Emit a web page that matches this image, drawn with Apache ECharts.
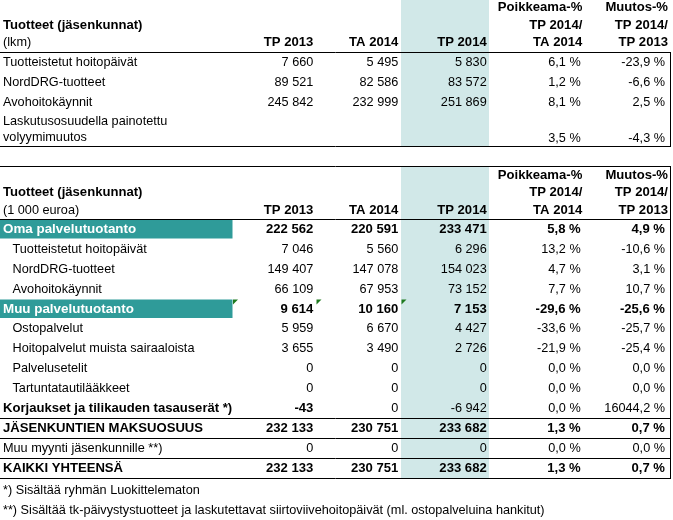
<!DOCTYPE html>
<html><head><meta charset="utf-8">
<script src="https://cdn.jsdelivr.net/npm/echarts@6/dist/echarts.min.js"></script>
<style>html,body{margin:0;padding:0;background:#fff}#c{width:673px;height:520px}</style>
</head><body><div id="c"></div>
<script>
// ================= DATA =================
const tableTitle = 'Tuotteet (jäsenkunnat)';
const columnHeaders = ['TP 2013', 'TA 2014', 'TP 2014', 'Poikkeama-%\nTP 2014/\nTA 2014', 'Muutos-%\nTP 2014/\nTP 2013'];

// Table 1: (lkm)
const topUnit = '(lkm)';
const topCategories = ['Tuotteistetut hoitopäivät', 'NordDRG-tuotteet', 'Avohoitokäynnit', 'Laskutusosuudella painotettu\nvolyymimuutos'];
const topTP2013 = [7660, 89521, 245842, null];
const topTA2014 = [5495, 82586, 232999, null];
const topTP2014 = [5830, 83572, 251869, null];
const topPoikkeama = [6.1, 1.2, 8.1, 3.5];
const topMuutos = [-23.9, -6.6, 2.5, -4.3];

// Table 2: (1 000 euroa)
const euroUnit = '(1 000 euroa)';
const euroCategories = ['Oma palvelutuotanto', 'Tuotteistetut hoitopäivät', 'NordDRG-tuotteet', 'Avohoitokäynnit',
  'Muu palvelutuotanto', 'Ostopalvelut', 'Hoitopalvelut muista sairaaloista', 'Palvelusetelit', 'Tartuntatautilääkkeet',
  'Korjaukset ja tilikauden tasauserät *)', 'JÄSENKUNTIEN MAKSUOSUUS', 'Muu myynti jäsenkunnille **)', 'KAIKKI YHTEENSÄ'];
const euroTP2013 = [222562, 7046, 149407, 66109, 9614, 5959, 3655, 0, 0, -43, 232133, 0, 232133];
const euroTA2014 = [220591, 5560, 147078, 67953, 10160, 6670, 3490, 0, 0, 0, 230751, 0, 230751];
const euroTP2014 = [233471, 6296, 154023, 73152, 7153, 4427, 2726, 0, 0, -6942, 233682, 0, 233682];
const euroPoikkeama = [5.8, 13.2, 4.7, 7.7, -29.6, -33.6, -21.9, 0.0, 0.0, 0.0, 1.3, 0.0, 1.3];
const euroMuutos = [4.9, -10.6, 3.1, 10.7, -25.6, -25.7, -25.4, 0.0, 0.0, 16044.2, 0.7, 0.0, 0.7];
const euroRowKind = ['group', 'sub', 'sub', 'sub', 'group', 'sub', 'sub', 'sub', 'sub', 'corr', 'total', 'plain', 'total'];

const footnotes = ['*) Sisältää ryhmän Luokittelematon',
  '**) Sisältää tk-päivystystuotteet ja laskutettavat siirtoviivehoitopäivät (ml. ostopalveluina hankitut)'];

// ================= LAYOUT / STYLE =================
const W = 673, H = 520;
const FAM = '"Liberation Sans", Arial, sans-serif';
const REG = 12.7, BOLD = 13.1, GROUP = 13.4;
const font = (bold, size) => (bold ? 'bold ' : '') + size + 'px ' + FAM;
const colRight = [313.3, 398.3, 486.7, 580.7, 665];
const colHeaderRight = [313.3, 398.3, 486.7, 582.3, 668];
const labelX = 3, indentX = 12.5, labelClip = 233.5;
const topHeaderY = [7.5, 25, 42.7];
const topRowY = [62.5, 82.5, 102.5, 138];
const topWrapY = [121, 137.5];
const euroHeaderY = [175, 192.7, 210.5];
const euroTop = 219.5, euroRowH = 19.9;
const footY = [490, 510.5];
const tealDark = '#2f9b99', tealLight = '#d1e8e8', ink = '#000000';

// ================= BUILD =================
const fmtNum = v => (v < 0 ? '-' : '') + String(Math.abs(v)).replace(/\B(?=(\d{3})+(?!\d))/g, ' ');
const fmtPct = v => v.toFixed(1).replace('.', ',') + ' %';

const cells = [];
function addText(x, y, text, opts) {
  cells.push(Object.assign({ x: x, y: y, text: text, align: 'left', bold: false, size: REG, color: ink, clip: false }, opts || {}));
}
function addHeaders(headerY, unit) {
  addText(labelX, headerY[1], tableTitle, { bold: true, size: BOLD });
  addText(labelX, headerY[2], unit);
  columnHeaders.forEach((h, c) => {
    const lines = h.split('\n');
    lines.forEach((ln, k) => {
      addText(colHeaderRight[c], headerY[3 - lines.length + k], ln, { align: 'right', bold: true, size: BOLD });
    });
  });
}
function addValues(y, vals, boldFlags) {
  vals.forEach((v, c) => {
    if (v === null || v === undefined) return;
    const t = c < 3 ? fmtNum(v) : fmtPct(v);
    const b = boldFlags[c];
    addText(colRight[c], y, t, { align: 'right', bold: b, size: b ? BOLD : REG });
  });
}

// Table 1
addHeaders(topHeaderY, topUnit);
topCategories.forEach((cat, i) => {
  const lines = cat.split('\n');
  if (lines.length > 1) lines.forEach((ln, k) => addText(labelX, topWrapY[k], ln, { clip: true }));
  else addText(labelX, topRowY[i], cat, { clip: true });
  addValues(topRowY[i], [topTP2013[i], topTA2014[i], topTP2014[i], topPoikkeama[i], topMuutos[i]], [false, false, false, false, false]);
});

// Table 2
addHeaders(euroHeaderY, euroUnit);
const rects = [];
const rectColors = [];
rects.push([401, 0, 489, 147]); rectColors.push(tealLight);
rects.push([401, 167, 489, 478.5]); rectColors.push(tealLight);
const markers = [];
euroCategories.forEach((cat, i) => {
  const kind = euroRowKind[i];
  const top = euroTop + i * euroRowH;
  const y = top + euroRowH / 2;
  const vals = [euroTP2013[i], euroTA2014[i], euroTP2014[i], euroPoikkeama[i], euroMuutos[i]];
  if (kind === 'group') {
    rects.push([0, top + 0.5, 232.5, top + 19]); rectColors.push(tealDark);
    addText(labelX, y, cat, { bold: true, size: GROUP, color: '#ffffff', clip: true });
    addValues(y, vals, [true, true, true, true, true]);
  } else if (kind === 'sub') {
    addText(indentX, y, cat, { clip: true });
    addValues(y, vals, [false, false, false, false, false]);
  } else if (kind === 'corr') {
    addText(labelX, y, cat, { bold: true, size: BOLD, clip: true });
    addValues(y, vals, [true, false, false, false, false]);
  } else if (kind === 'total') {
    addText(labelX, y, cat, { bold: true, size: BOLD, clip: true });
    addValues(y, vals, [true, true, true, true, true]);
  } else {
    addText(labelX, y, cat, { clip: true });
    addValues(y, vals, [false, false, false, false, false]);
  }
  if (i === 4) { markers.push([233, top + 0.5]); markers.push([316.5, top + 0.5]); markers.push([401.5, top + 0.5]); }
});
footnotes.forEach((f, k) => addText(labelX, footY[k], f));

const rules = [
  [0, 52.5, 671, 52.5], [0, 146.5, 671, 146.5], [670.5, 52.5, 670.5, 146.5],
  [0, 166.5, 671, 166.5], [0, 219.5, 671, 219.5], [670.5, 166.5, 670.5, 478.5],
  [0, 418.5, 671, 418.5], [0, 438.5, 671, 438.5], [0, 458.5, 671, 458.5], [0, 478.5, 671, 478.5]
];

// ================= CHART =================
const chart = echarts.init(document.getElementById('c'), null, { renderer: 'canvas' });
chart.setOption({
  animation: false,
  backgroundColor: '#ffffff',
  grid: { left: 0, right: 0, top: 0, bottom: 0 },
  xAxis: { type: 'value', min: 0, max: W, show: false },
  yAxis: { type: 'value', min: 0, max: H, inverse: true, show: false },
  series: [
    {
      type: 'custom', z: 1, silent: true, data: rects,
      renderItem: function (params, api) {
        const p0 = api.coord([api.value(0), api.value(1)]);
        const p1 = api.coord([api.value(2), api.value(3)]);
        return { type: 'rect', shape: { x: p0[0], y: p0[1], width: p1[0] - p0[0], height: p1[1] - p0[1] },
          style: { fill: rectColors[params.dataIndex] } };
      }
    },
    {
      type: 'custom', z: 2, silent: true, data: rules,
      renderItem: function (params, api) {
        const p0 = api.coord([api.value(0), api.value(1)]);
        const p1 = api.coord([api.value(2), api.value(3)]);
        return { type: 'line', shape: { x1: p0[0], y1: p0[1], x2: p1[0], y2: p1[1] },
          style: { stroke: ink, lineWidth: 1 } };
      }
    },
    {
      type: 'custom', z: 3, silent: true, data: markers,
      renderItem: function (params, api) {
        const p = api.coord([api.value(0), api.value(1)]);
        return { type: 'polygon', shape: { points: [[p[0], p[1]], [p[0] + 5, p[1]], [p[0], p[1] + 5]] },
          style: { fill: '#1f7a1f' } };
      }
    },
    {
      type: 'custom', z: 4, silent: true, data: cells.map(c => [c.x, c.y]),
      renderItem: function (params, api) {
        const c = cells[params.dataIndex];
        const p = api.coord([api.value(0), api.value(1)]);
        const el = {
          type: 'text', x: p[0], y: p[1],
          style: { text: c.text, fill: c.color, font: font(c.bold, c.size),
            align: c.align, verticalAlign: 'middle', textAlign: c.align, textVerticalAlign: 'middle' }
        };
        if (c.clip) {
          const cx = api.coord([labelClip, 0])[0];
          el.clipPath = { type: 'rect', shape: { x: -p[0], y: -15, width: cx, height: 30 } };
        }
        return el;
      }
    }
  ]
});
</script>
</body></html>
